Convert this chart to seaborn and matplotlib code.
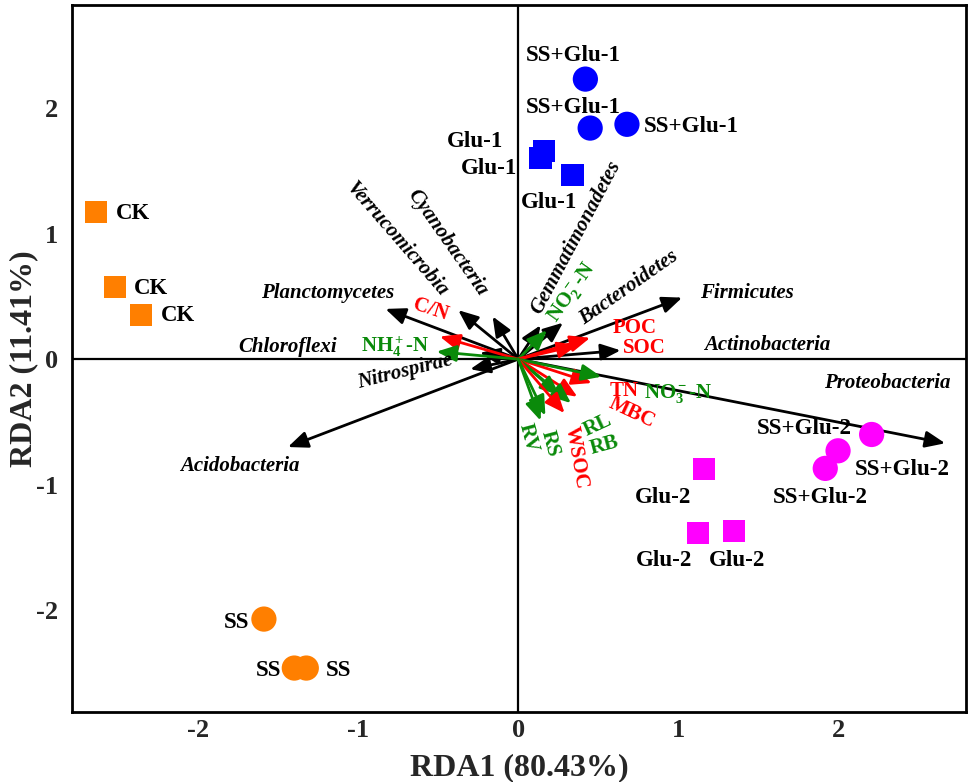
import matplotlib
matplotlib.use("Agg")
import matplotlib.pyplot as plt
import seaborn as sns
import pandas as pd
from matplotlib.ticker import MultipleLocator

# ---------------- data ----------------
samples = ["CK", "CK", "CK", "SS", "SS", "SS",
           "Glu-1", "Glu-1", "Glu-1", "SS+Glu-1", "SS+Glu-1", "SS+Glu-1",
           "Glu-2", "Glu-2", "Glu-2", "SS+Glu-2", "SS+Glu-2", "SS+Glu-2"]
rda1 = [-2.64, -2.52, -2.36, -1.59, -1.40, -1.325,
        0.16, 0.14, 0.34, 0.42, 0.45, 0.68,
        1.16, 1.125, 1.35, 2.21, 2.00, 1.92]
rda2 = [1.17, 0.574, 0.35, -2.07, -2.46, -2.46,
        1.657, 1.60, 1.466, 2.23, 1.84, 1.87,
        -0.876, -1.386, -1.37, -0.60, -0.73, -0.87]

species = ["Proteobacteria", "Firmicutes", "Actinobacteria", "Bacteroidetes",
           "Gemmatimonadetes", "Cyanobacteria", "Verrucomicrobia", "Planctomycetes",
           "Chloroflexi", "Nitrospirae", "Acidobacteria"]
species_x = [2.67, 1.025, 0.64, 0.28, 0.14, -0.16, -0.375, -0.83, -0.24, -0.30, -1.44]
species_y = [-0.67, 0.49, 0.07, 0.29, 0.27, 0.34, 0.39, 0.40, 0.05, -0.08, -0.70]

env = ["C/N", r"NH$_4^+$-N", r"NO$_2^-$-N", "POC", "SOC", "TN", r"NO$_3^-$-N",
       "MBC", "RL", "RB", "WSOC", "RS", "RV"]
env_x = [-0.49, -0.51, 0.18, 0.45, 0.37, 0.46, 0.52, 0.37, 0.33, 0.26, 0.29, 0.17, 0.14]
env_y = [0.18, 0.06, 0.23, 0.17, 0.11, -0.19, -0.14, -0.30, -0.35, -0.29, -0.43, -0.45, -0.49]
env_type = ["soil", "n", "n", "soil", "soil", "soil", "n",
            "soil", "n", "n", "soil", "n", "n"]

xlabel = "RDA1 (80.43%)"
ylabel = "RDA2 (11.41%)"

# ---------------- styles / layout ----------------
group_colors = {"CK": "#FF7F00", "SS": "#FF7F00", "Glu-1": "#0000FF",
                "SS+Glu-1": "#0000FF", "Glu-2": "#FF00FF", "SS+Glu-2": "#FF00FF"}
group_markers = {"CK": "s", "SS": "o", "Glu-1": "s", "SS+Glu-1": "o",
                 "Glu-2": "s", "SS+Glu-2": "o"}
env_colors = {"soil": "#FF0000", "n": "#0A8A0A"}

# sample label offsets (pixels, y up)
sample_off = [(37, -1), (36, -1), (37, 0), (-27, -3), (-26, -2), (32, -2),
              (-69, 10), (-52, -10), (-24, -27), (-12, 24), (-17, 21), (64, -2),
              (-41, -28), (-34, -27), (3, -29), (-67, 6), (64, -19), (-5, -29)]

species_lab = [(2.31, -0.19, 0), (1.43, 0.53, 0), (1.56, 0.11, 0), (0.69, 0.57, 35),
               (0.36, 0.97, 62), (-0.44, 0.93, -55), (-0.76, 0.95, -49),
               (-1.19, 0.53, 0), (-1.44, 0.10, 0), (-0.71, -0.10, 14), (-1.74, -0.85, 0)]
env_lab = [(-0.55, 0.39, -18), (-0.77, 0.10, 0), (0.34, 0.53, 55), (0.73, 0.25, 0),
           (0.79, 0.09, 0), (0.66, -0.25, 0), (1.0, -0.27, 0), (0.71, -0.43, -25),
           (0.50, -0.53, 25), (0.54, -0.69, 15), (0.36, -0.78, -80),
           (0.20, -0.67, -75), (0.06, -0.63, -75)]

sns.set_style("white")
plt.rcParams["font.family"] = ["Liberation Serif", "DejaVu Serif"]
plt.rcParams["font.weight"] = "bold"
plt.rcParams["axes.unicode_minus"] = False
plt.rcParams["mathtext.fontset"] = "custom"
plt.rcParams["mathtext.rm"] = "Liberation Serif:bold"
plt.rcParams["mathtext.it"] = "Liberation Serif:italic:bold"
plt.rcParams["mathtext.bf"] = "Liberation Serif:bold"
plt.rcParams["mathtext.default"] = "rm"

fig = plt.figure(figsize=(9.69, 7.82), dpi=100)
ax = fig.add_axes([0.0743, 0.0895, 0.9226, 0.9041])

ax.axhline(0, color="black", lw=1.6, zorder=1)
ax.axvline(0, color="black", lw=1.6, zorder=1)

df = pd.DataFrame({"RDA1": rda1, "RDA2": rda2, "group": samples})
for shape, size in (("s", 260), ("o", 330)):
    sub = df[df["group"].map(group_markers) == shape]
    sns.scatterplot(data=sub, x="RDA1", y="RDA2", hue="group", palette=group_colors,
                    marker=shape, s=size, linewidth=0, legend=False, ax=ax, zorder=4)

for i, name in enumerate(samples):
    dx, dy = sample_off[i]
    ax.annotate(name, (rda1[i], rda2[i]), xytext=(dx * 0.72, dy * 0.72),
                textcoords="offset points", ha="center", va="center",
                fontsize=16.5, fontweight="bold", color="black", zorder=5)

def arrow(x, y, color, lw, hl, hw):
    ax.annotate("", xy=(x, y), xytext=(0, 0),
                arrowprops=dict(arrowstyle=f"-|>,head_length={hl},head_width={hw}",
                                color=color, lw=lw, shrinkA=0, shrinkB=0,
                                mutation_scale=20),
                zorder=3)

for i, name in enumerate(species):
    arrow(species_x[i], species_y[i], "black", 2.0, 0.6, 0.25)
    lx, ly, rot = species_lab[i]
    ax.text(lx, ly, name, ha="center", va="center", rotation=rot,
            rotation_mode="anchor", fontsize=15, fontweight="bold",
            fontstyle="italic", color="black", zorder=5)

for i, name in enumerate(env):
    c = env_colors[env_type[i]]
    arrow(env_x[i], env_y[i], c, 2.0, 0.6, 0.25)
    lx, ly, rot = env_lab[i]
    ax.text(lx, ly, name, ha="center", va="center", rotation=rot,
            rotation_mode="anchor", fontsize=15, fontweight="bold",
            color=c, zorder=5)

ax.set_xlim(-2.79, 2.8)
ax.set_ylim(-2.81, 2.82)
ax.xaxis.set_major_locator(MultipleLocator(1))
ax.yaxis.set_major_locator(MultipleLocator(1))
ax.xaxis.set_minor_locator(MultipleLocator(0.5))
ax.yaxis.set_minor_locator(MultipleLocator(0.5))
ax.tick_params(which="major", direction="in", length=6, width=1.5, labelsize=19,
               top=False, right=False)
ax.tick_params(axis="x", which="major", pad=5)
ax.tick_params(axis="y", which="major", pad=10)
ax.tick_params(which="minor", direction="in", length=3, width=1.2, top=False, right=False)
for lab in ax.get_xticklabels() + ax.get_yticklabels():
    lab.set_fontweight("bold")
for sp in ax.spines.values():
    sp.set_color("black")
    sp.set_linewidth(2)

ax.set_xlabel(xlabel, fontsize=23, fontweight="bold")
ax.set_ylabel(ylabel, fontsize=23, fontweight="bold")
ax.xaxis.set_label_coords(0.5, -0.058)
ax.yaxis.set_label_coords(-0.038, 0.5)

fig.savefig("out.png", dpi=100)
